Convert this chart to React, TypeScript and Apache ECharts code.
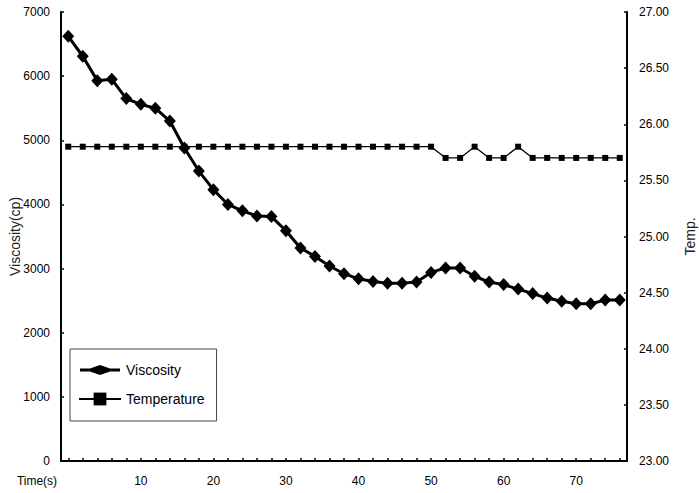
import React, { useEffect, useRef } from "react";
import * as echarts from "echarts";

const times: string[] = [
  "0","2","4","6","8","10","12","14","16","18","20","22","24","26","28","30","32","34","36","38",
  "40","42","44","46","48","50","52","54","56","58","60","62","64","66","68","70","72","74","76",
];

const viscosity: number[] = [
  6620, 6310, 5930, 5950, 5650, 5560, 5500, 5300, 4880, 4520,
  4230, 4000, 3900, 3820, 3810, 3590, 3320, 3190, 3040, 2920,
  2840, 2800, 2770, 2770, 2790, 2940, 3010, 3010, 2880, 2790,
  2750, 2680, 2610, 2540, 2490, 2450, 2450, 2510, 2510,
];

const temperature: number[] = [
  25.8, 25.8, 25.8, 25.8, 25.8, 25.8, 25.8, 25.8, 25.8, 25.8,
  25.8, 25.8, 25.8, 25.8, 25.8, 25.8, 25.8, 25.8, 25.8, 25.8,
  25.8, 25.8, 25.8, 25.8, 25.8, 25.8, 25.7, 25.7, 25.8, 25.7,
  25.7, 25.8, 25.7, 25.7, 25.7, 25.7, 25.7, 25.7, 25.7,
];

const FONT = "'Liberation Sans', Arial, sans-serif";

const VISC_ICON =
  "path://M0,0M40,16M0,6.5L10,6.5L20,3L30,6.5L40,6.5L40,9.5L30,9.5L20,13L10,9.5L0,9.5Z";

export default function App() {
  const ref = useRef<HTMLDivElement>(null);
  useEffect(() => {
    if (!ref.current) return;
    const chart = echarts.init(ref.current, undefined, { renderer: "svg" });
    chart.setOption({
      animation: false,
      backgroundColor: "#ffffff",
      textStyle: { fontFamily: FONT, color: "#000" },
      grid: { left: 61, right: 72, top: 12, bottom: 32, containLabel: false, outerBoundsMode: "none" },
      legend: {
        orient: "vertical",
        left: 70,
        top: 349,
        padding: [13, 12, 15, 8],
        itemWidth: 42,
        itemHeight: 16,
        itemGap: 14,
        borderColor: "#444",
        borderWidth: 1,
        textStyle: { fontSize: 14, color: "#000", fontFamily: FONT },
        data: [
          { name: "Viscosity", icon: VISC_ICON },
          { name: "Temperature" },
        ],
      },
      graphic: [
        {
          type: "text",
          x: 37,
          y: 481,
          style: {
            text: "Time(s)",
            font: `12px ${FONT}`,
            fill: "#000",
            textAlign: "center",
            textVerticalAlign: "middle",
          },
        },
      ],
      xAxis: {
        type: "category",
        data: times,
        boundaryGap: true,
        axisLine: { show: true, lineStyle: { color: "#000", width: 2 } },
        axisTick: {
          show: true,
          inside: true,
          length: 3,
          alignWithLabel: true,
          interval: 0,
          lineStyle: { color: "#000", width: 1.5 },
        },
        axisLabel: {
          interval: (idx: number) => idx > 0 && idx % 5 === 0,
          margin: 14,
          fontSize: 12,
          color: "#000",
          fontFamily: FONT,
        },
        splitLine: { show: false },
      },
      yAxis: [
        {
          type: "value",
          min: 0,
          max: 7000,
          interval: 1000,
          position: "left",
          name: "Viscosity(cp)",
          nameLocation: "middle",
          nameGap: 39,
          nameRotate: 90,
          nameMoveOverlap: false,
          nameTextStyle: { fontSize: 14, color: "#222", fontFamily: FONT },
          axisLine: { show: true, lineStyle: { color: "#000", width: 2 } },
          axisTick: { show: true, inside: true, length: 3, lineStyle: { color: "#000", width: 1.5 } },
          axisLabel: {
            margin: 11,
            fontSize: 12,
            color: "#000",
            fontFamily: FONT,
            formatter: (v: number) => String(v),
          },
          splitLine: { show: false },
        },
        {
          type: "value",
          min: 23,
          max: 27,
          interval: 0.5,
          position: "right",
          name: "Temp.",
          nameLocation: "middle",
          nameGap: 56,
          nameRotate: 90,
          nameMoveOverlap: false,
          nameTextStyle: { fontSize: 14, color: "#222", fontFamily: FONT },
          axisLine: { show: true, lineStyle: { color: "#000", width: 2 } },
          axisTick: { show: true, inside: true, length: 3, lineStyle: { color: "#000", width: 1.5 } },
          axisLabel: {
            margin: 12,
            fontSize: 12,
            color: "#000",
            fontFamily: FONT,
            formatter: (v: number) => v.toFixed(2),
          },
          splitLine: { show: false },
        },
      ],
      series: [
        {
          name: "Viscosity",
          type: "line",
          yAxisIndex: 0,
          data: viscosity,
          symbol: "diamond",
          symbolSize: [12, 13],
          showAllSymbol: true,
          lineStyle: { color: "#000", width: 3 },
          itemStyle: { color: "#000" },
          z: 3,
        },
        {
          name: "Temperature",
          type: "line",
          yAxisIndex: 1,
          data: temperature,
          symbol: "rect",
          symbolSize: 6,
          showAllSymbol: true,
          lineStyle: { color: "#000", width: 1.3 },
          itemStyle: { color: "#000" },
          z: 2,
        },
      ],
    });
    return () => chart.dispose();
  }, []);
  return (
    <div
      ref={ref}
      style={{ position: "fixed", left: 0, top: 0, width: 699, height: 493 }}
    />
  );
}
